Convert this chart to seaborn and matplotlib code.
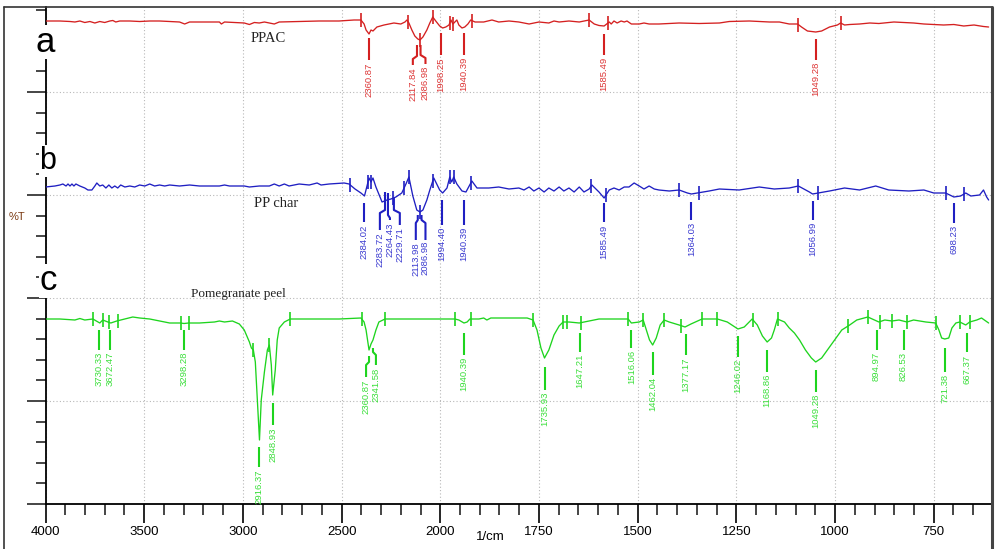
import numpy as np
import pandas as pd
import matplotlib
matplotlib.use("Agg")
import matplotlib.pyplot as plt
import seaborn as sns
from matplotlib.ticker import FixedLocator, FuncFormatter
from matplotlib.lines import Line2D
from matplotlib import font_manager

# ---------------- data ----------------
samples = ["PPAC", "PP char", "Pomegranate peel"]

ppac_wn = [4000, 3927, 3876, 3851, 3826, 3801, 3775, 3750, 3725, 3700, 3674, 3659, 3644, 3624, 3573,
           3523, 3472, 3422, 3321, 3295, 3270, 3119, 3109, 3093, 2993, 2967, 2942, 2917, 2891, 2841,
           2816, 2715, 2614, 2513, 2437, 2402, 2386, 2376, 2361, 2351, 2341, 2321, 2285, 2235, 2200,
           2179, 2169, 2159, 2144, 2129, 2114, 2103, 2088, 2068, 2053, 2038, 2023, 2003, 1994, 1986,
           1978, 1973, 1968, 1963, 1958, 1953, 1945, 1938, 1930, 1923, 1912, 1890, 1869, 1852, 1826,
           1801, 1775, 1750, 1725, 1712, 1699, 1674, 1648, 1636, 1623, 1610, 1598, 1585, 1572, 1567,
           1560, 1552, 1542, 1534, 1527, 1516, 1496, 1484, 1471, 1446, 1395, 1344, 1293, 1268, 1217,
           1166, 1141, 1116, 1095, 1085, 1070, 1049, 1034, 1014, 994, 986, 976, 963, 938, 912,
           889, 851, 826, 801, 775, 750, 725, 699, 674, 648, 624, 611]
ppac_t = [100, 100, 99.75, 99.5, 100, 99.25, 99.75, 99, 99.75, 99.25, 100, 100.25, 99.5, 100, 100,
          99.75, 100, 100, 99.5, 98.5, 99.5, 99.5, 98.5, 99.5, 99, 98.25, 99.25, 99, 99.5, 98.5,
          99.5, 99.75, 100, 100, 100.5, 100.5, 98.5, 95.5, 93.5, 95.5, 95, 97, 98, 99, 98.5,
          99.5, 100.5, 99, 95.5, 92.5, 91, 90.5, 92, 95.5, 99, 102, 100, 97.5, 96.5, 97,
          98, 100.5, 98.5, 99.5, 100.5, 98, 96.5, 97, 98.5, 100.5, 99.5, 99.5, 100.5, 99.5, 100,
          99.5, 98.5, 99.5, 99, 100, 99.5, 100, 99.5, 100, 100.5, 98.5, 97.75, 97.5, 99.5, 98.5,
          100, 99, 100, 99.5, 100, 98.5, 98.5, 99, 98.5, 98.5, 99, 98.75, 99, 99.75, 100,
          99.5, 99.5, 98.5, 98.5, 97, 95, 94.5, 95, 97, 98, 99, 98, 98.25, 98.5, 99,
          98.75, 99.5, 99.25, 99, 98.5, 98.25, 98, 98.25, 97.5, 98, 97.25, 97]

char_wn = [4000, 3952, 3927, 3912, 3896, 3886, 3876, 3866, 3856, 3846, 3836, 3826, 3801, 3785, 3765,
           3750, 3740, 3725, 3710, 3694, 3679, 3664, 3649, 3634, 3619, 3598, 3573, 3548, 3523, 3497,
           3472, 3447, 3422, 3396, 3371, 3321, 3270, 3220, 3119, 3093, 3068, 2993, 2967, 2917, 2866,
           2841, 2816, 2790, 2766, 2715, 2664, 2624, 2604, 2563, 2487, 2462, 2432, 2402, 2384, 2361,
           2351, 2341, 2326, 2295, 2270, 2250, 2225, 2195, 2174, 2159, 2139, 2119, 2103, 2088, 2068,
           2053, 2033, 2018, 2003, 1994, 1983, 1976, 1971, 1966, 1958, 1945, 1935, 1920, 1907, 1877,
           1852, 1826, 1801, 1788, 1775, 1763, 1750, 1737, 1725, 1712, 1699, 1687, 1674, 1661, 1648,
           1636, 1623, 1616, 1598, 1585, 1572, 1560, 1547, 1534, 1522, 1509, 1496, 1484, 1471, 1458,
           1446, 1420, 1395, 1374, 1364, 1319, 1293, 1243, 1192, 1154, 1116, 1093, 1065, 1057, 1014,
           976, 938, 897, 864, 813, 775, 750, 720, 699, 682, 669, 656, 634, 624, 616, 611]
char_t = [99.5, 100, 100.5, 101, 100, 101, 100, 101, 100, 101, 100.5, 100, 99, 98, 98,
          100, 101.5, 100, 100.5, 99, 100.5, 99, 100, 99, 100.5, 99.5, 100, 99.5, 100.5, 100,
          101, 100, 100.5, 100, 100.5, 100, 100.5, 100, 100, 100.5, 100, 100, 99.5, 100, 100,
          101, 100, 101, 100, 101, 100.5, 101.5, 100.5, 101, 101.5, 101, 98.5, 96.5, 95, 104,
          102, 104, 99.5, 92, 93, 93.5, 94.5, 96.5, 101, 104.5, 95, 88, 87, 88, 93,
          98, 104, 101, 98, 96.5, 99, 104.5, 102, 104.5, 101, 97.5, 97, 102.5, 99, 99,
          99.5, 98.5, 99, 98, 99.5, 97.5, 99, 97, 99, 97.5, 99.5, 97.5, 99, 97, 99.5,
          97, 98.5, 100.5, 97, 94, 98, 99, 98, 99.5, 99.5, 101.5, 100, 98.5, 100, 98.5,
          98, 97.5, 98, 96.5, 96, 97.5, 98.5, 98, 99.5, 98.5, 99, 100, 97, 96, 97.5,
          99, 98, 100, 98, 97.5, 98, 96.5, 96.5, 94.5, 95, 96.5, 95, 95.5, 98, 94.5, 93]

peel_wn = [4000, 3927, 3851, 3826, 3801, 3760, 3725, 3710, 3684, 3669, 3639, 3598, 3558, 3523, 3472,
           3422, 3371, 3316, 3298, 3275, 3220, 3144, 3119, 3093, 3053, 3018, 2993, 2967, 2957, 2947,
           2937, 2927, 2916, 2907, 2891, 2876, 2866, 2856, 2849, 2836, 2826, 2816, 2790, 2760, 2715,
           2513, 2402, 2386, 2376, 2361, 2351, 2341, 2326, 2311, 2280, 1963, 1953, 1940, 1932, 1925,
           1902, 1890, 1882, 1872, 1852, 1780, 1765, 1755, 1745, 1736, 1725, 1712, 1699, 1689, 1674,
           1648, 1623, 1598, 1547, 1524, 1516, 1496, 1486, 1478, 1470, 1462, 1453, 1443, 1433, 1420,
           1395, 1380, 1365, 1337, 1298, 1273, 1246, 1230, 1210, 1197, 1184, 1172, 1161, 1154, 1146,
           1128, 1116, 1103, 1090, 1075, 1060, 1049, 1034, 1014, 983, 963, 945, 917, 889, 874,
           856, 838, 818, 801, 770, 745, 737, 730, 722, 712, 704, 694, 684, 669, 659,
           641, 629, 611]
peel_t = [100, 100, 99.5, 100.25, 99.5, 100, 98, 99.5, 98.5, 98, 99, 100, 101, 100.5, 100,
          99, 98, 98, 97.75, 98, 98, 98.5, 99, 98.5, 99, 97.5, 94.5, 88.5, 85.5, 84.5,
          78.5, 59.5, 39.5, 59.5, 73.5, 84.5, 87, 77, 62, 74.5, 89.5, 95.5, 98.5, 100, 100,
          100, 100.5, 98.5, 94.5, 84.5, 87.5, 89.5, 94.5, 98.5, 100, 100, 99.5, 98, 98.5, 100,
          100, 100.5, 99.5, 100.5, 100.5, 100.5, 99.5, 94.5, 85.5, 80.5, 84.5, 92, 96.5, 98.5, 98.5,
          98, 99, 100, 100, 100, 98, 98.5, 99.5, 94.5, 89.5, 87, 90.5, 97, 99.5, 98.5,
          97, 96, 97.5, 100, 100, 98.5, 95, 96, 100, 97, 91.5, 88.5, 90.5, 94.5, 100,
          98.5, 95.5, 93, 89.5, 84.5, 80.5, 78.5, 80.5, 86, 94.5, 97, 99.5, 101, 98.5, 99.5,
          99, 99.5, 98.5, 99.5, 98.5, 98, 94.5, 90.5, 90, 90.5, 95.5, 98, 98.5, 97, 98.5,
          99.5, 100.5, 98]

# integration-limit ticks drawn on each trace (wavenumbers)
ppac_marks = [2402, 2164, 2103, 2038, 1976, 1968, 1920, 1623, 1575, 1093, 986]
char_marks = [2457, 2366, 2351, 2280, 2240, 2184, 2159, 2103, 2038, 1976, 1966, 1923, 1618, 1580,
              1395, 1344, 1093, 1042, 720, 674]
peel_marks = [3760, 3710, 3679, 3634, 3316, 3275, 2947, 2866, 2760, 2397, 2280, 1963, 1923, 1765,
              1689, 1679, 1643, 1524, 1486, 1433, 1390, 1337, 1298, 1207, 1144, 966, 917, 887, 856,
              818, 745, 684, 659]

# labelled peaks
ppac_peaks = [2360.87, 2117.84, 2086.98, 1998.25, 1940.39, 1585.49, 1049.28]
char_peaks = [2384.02, 2283.72, 2264.43, 2229.71, 2113.98, 2086.98, 1994.40, 1940.39, 1585.49,
              1364.03, 1056.99, 698.23]
peel_peaks = [3730.33, 3672.47, 3298.28, 2916.37, 2848.93, 2360.87, 2341.58, 1940.39, 1735.93,
              1647.21, 1516.06, 1462.04, 1377.17, 1246.02, 1168.86, 1049.28, 894.97, 826.53,
              721.38, 667.37]

x_major = [4000, 3500, 3000, 2500, 2000, 1750, 1500, 1250, 1000, 750]

# ---------------- layout / style (not data) ----------------
offsets = {"PPAC": 141.5, "PP char": 59.0, "Pomegranate peel": -7.5}
line_colors = {"PPAC": "#d42020", "PP char": "#1f1fc2", "Pomegranate peel": "#1ed41e"}
text_colors = {"PPAC": "#dd3535", "PP char": "#3a3ad0", "Pomegranate peel": "#3adf3a"}

# leader geometry per label: (x_start, y_top, y_mid, x_text, y_bottom, y_text)
ppac_layout = [(2361, 91.5, 80.5, 2361, 80.5, 79), (2118, 88, 82.5, 2139, 78, 77),
               (2100, 88, 83, 2075, 78.5, 77.5), (1998, 94, 83, 1998, 83, 82),
               (1940, 94, 83, 1940, 83, 82), (1585, 93.5, 83, 1585, 83, 82),
               (1049, 91, 80.5, 1049, 80.5, 79.5)]
char_layout = [(2384, 91.5, 82, 2384, 82, 80.5), (2280, 97, 88, 2306, 78, 77),
               (2265, 96.5, 85.5, 2255, 83, 81.5), (2235, 94, 88, 2205, 80.5, 79.5),
               (2114, 85.5, 83, 2124, 73, 72), (2095, 85.5, 83, 2075, 73, 72.5),
               (1996, 93, 80.5, 1996, 80.5, 79.5), (1940, 93, 80.5, 1940, 80.5, 79.5),
               (1585, 91.5, 82, 1585, 82, 80.5), (1364, 92, 83, 1364, 83, 82),
               (1057, 92.5, 83, 1057, 83, 82), (698, 91.5, 81.5, 698, 81.5, 80.5)]
peel_layout = [(3730, 94.5, 84.5, 3730, 84.5, 83.5), (3672, 94.5, 84.5, 3672, 84.5, 83.5),
               (3298, 94.5, 84.5, 3298, 84.5, 83.5), (2916, 36, 26, 2916, 26, 25),
               (2849, 58, 47, 2849, 47, 45.5), (2361, 81.5, 78.5, 2376, 71, 69.5),
               (2341, 85.5, 83.5, 2326, 77, 75.5), (1940, 93, 82, 1940, 82, 81),
               (1736, 76, 64.5, 1736, 64.5, 63.5), (1647, 93, 83.5, 1647, 83.5, 82.5),
               (1516, 94.5, 85.5, 1516, 85.5, 84.5), (1462, 83.5, 72, 1462, 72, 71),
               (1377, 92.5, 82, 1377, 82, 81), (1246, 91.5, 81, 1246, 81, 80),
               (1172, 84.5, 73.5, 1172, 73.5, 72.5), (1049, 74.5, 63.5, 1049, 63.5, 62.5),
               (895, 94.5, 84.5, 895, 84.5, 83.5), (826.5, 94.5, 84.5, 826.5, 84.5, 83.5),
               (721, 85.5, 73.5, 721, 73.5, 72.5), (667, 93, 83.5, 667, 83.5, 82)]

sns.set_style("ticks")
names = {f.name for f in font_manager.fontManager.ttflist}
NARROW = "Liberation Sans Narrow" if "Liberation Sans Narrow" in names else "Liberation Sans"
plt.rcParams["font.family"] = ["Liberation Sans", "DejaVu Sans"]

W, H = 996, 549
fig = plt.figure(figsize=(W / 100, H / 100), dpi=100)
fig.patch.set_facecolor("white")
ax = fig.add_axes([45.5 / W, 45 / H, (991 - 45.5) / W, 497 / H])


def fwd(x):
    x = np.asarray(x, dtype=float)
    return np.where(x > 2000, 2000 + (x - 2000) / 2.0, x)


def inv(u):
    u = np.asarray(u, dtype=float)
    return np.where(u > 2000, 2000 + (u - 2000) * 2.0, u)


ax.set_xscale("function", functions=(fwd, inv))

frames = []
for s, wn, t in [("PPAC", ppac_wn, ppac_t), ("PP char", char_wn, char_t),
                 ("Pomegranate peel", peel_wn, peel_t)]:
    frames.append(pd.DataFrame({"sample": s, "wavenumber": wn, "T": t}))
df = pd.concat(frames, ignore_index=True)
df["y"] = df["T"] + df["sample"].map(offsets)

sns.lineplot(data=df, x="wavenumber", y="y", hue="sample", palette=line_colors,
             sort=False, estimator=None, legend=False, lw=0.95, ax=ax, zorder=3)

sets = [("PPAC", ppac_wn, ppac_t, ppac_marks, ppac_peaks, ppac_layout),
        ("PP char", char_wn, char_t, char_marks, char_peaks, char_layout),
        ("Pomegranate peel", peel_wn, peel_t, peel_marks, peel_peaks, peel_layout)]
for s, wn, t, marks, peaks, layout in sets:
    off = offsets[s]
    c = line_colors[s]
    tc = text_colors[s]
    wa = np.array(wn)[::-1]
    ta = np.array(t)[::-1]
    ym = np.interp(marks, wa, ta) + off
    ax.vlines(marks, ym - 3.5, ym + 3.5, color=c, lw=1.2, zorder=4)
    for p, (x0, top, mid, x1, bot, yt) in zip(peaks, layout):
        if x1 == x0:
            xs, ys = [x0, x0], [top, bot]
        else:
            xs, ys = [x0, x0, x1, x1], [top, mid, mid - 1.5, bot]
        ax.plot(xs, np.array(ys) + off, color=c, lw=1.5, zorder=4, solid_capstyle="butt")
        ax.text(x1, yt + off, f"{p:.2f}", rotation=90, ha="center", va="top",
                fontsize=6.8, color=tc, zorder=5)

ax.set_xlim(4000, 605)
ax.set_ylim(0, 248.5)

x_minor = [v for v in range(3900, 2000, -100) if v not in x_major] + \
          [v for v in range(1950, 604, -50) if v not in x_major]
ax.xaxis.set_major_locator(FixedLocator(x_major))
ax.xaxis.set_minor_locator(FixedLocator(x_minor))
ax.xaxis.set_major_formatter(FuncFormatter(lambda v, p: f"{v:.0f}"))
ax.yaxis.set_major_locator(FixedLocator([0, 51.5, 103, 154.5, 206]))
ax.yaxis.set_minor_locator(FixedLocator([i * 10.3 for i in range(25) if i % 5]))

ax.tick_params(axis="x", which="major", length=14, width=1.2, direction="out",
               labelsize=9.5, pad=2, bottom=True, colors="black")
ax.tick_params(axis="x", which="minor", length=8, width=1.2, direction="out", bottom=True)
ax.tick_params(axis="y", which="major", length=14, width=1.2, direction="out",
               left=True, labelleft=False)
ax.tick_params(axis="y", which="minor", length=7, width=1.2, direction="out", left=True)
for lab in ax.get_xticklabels():
    lab.set_family([NARROW, "DejaVu Sans"])

ax.grid(True, which="major", color="#b8b8b8", linestyle=(0, (1, 2)), lw=0.8)
ax.set_axisbelow(True)
ax.set_xlabel("")
ax.set_ylabel("")
for side in ["top", "right"]:
    ax.spines[side].set_visible(False)
for side in ["left", "bottom"]:
    ax.spines[side].set_color("black")
    ax.spines[side].set_linewidth(1.3)

# outer frame of the screenshot
ytop = 1 - 7 / H
fig.add_artist(Line2D([4 / W, 4 / W], [0, ytop], color="#333333", lw=1.2))
fig.add_artist(Line2D([4 / W, 992 / W], [ytop, ytop], color="#333333", lw=1.2))
fig.add_artist(Line2D([992 / W, 992 / W], [0, ytop], color="#444444", lw=2.2))

# panel titles
ax.text(0.2353, 0.9376, "PPAC", transform=ax.transAxes, ha="center", va="center",
        family=["Liberation Serif", "DejaVu Serif"], fontsize=10.5, color="#222222")
ax.text(0.2438, 0.6056, "PP char", transform=ax.transAxes, ha="center", va="center",
        family=["Liberation Serif", "DejaVu Serif"], fontsize=10.5, color="#222222")
ax.text(0.2036, 0.4235, "Pomegranate peel", transform=ax.transAxes, ha="center", va="center",
        family=["Liberation Serif", "DejaVu Serif"], fontsize=9.5, color="#222222")

# panel letters
for letter, (px, py), fs in [("a", (45.5, 42), 25), ("b", (48, 161), 22), ("c", (48, 281), 25)]:
    fig.text(px / W, 1 - py / H, letter, ha="center", va="center", fontsize=fs,
             family=[NARROW, "DejaVu Sans"], color="black",
             bbox=dict(facecolor="white", edgecolor="none", pad=0.5))

fig.text(17 / W, 1 - 217 / H, "%T", ha="center", va="center", fontsize=8,
         family=[NARROW, "DejaVu Sans"], color="#7a3a12")
fig.text(490 / W, 1 - 537 / H, "1/cm", ha="center", va="center", fontsize=9.5,
         family=[NARROW, "DejaVu Sans"], color="black")

fig.savefig("out.png", dpi=100, facecolor="white")
